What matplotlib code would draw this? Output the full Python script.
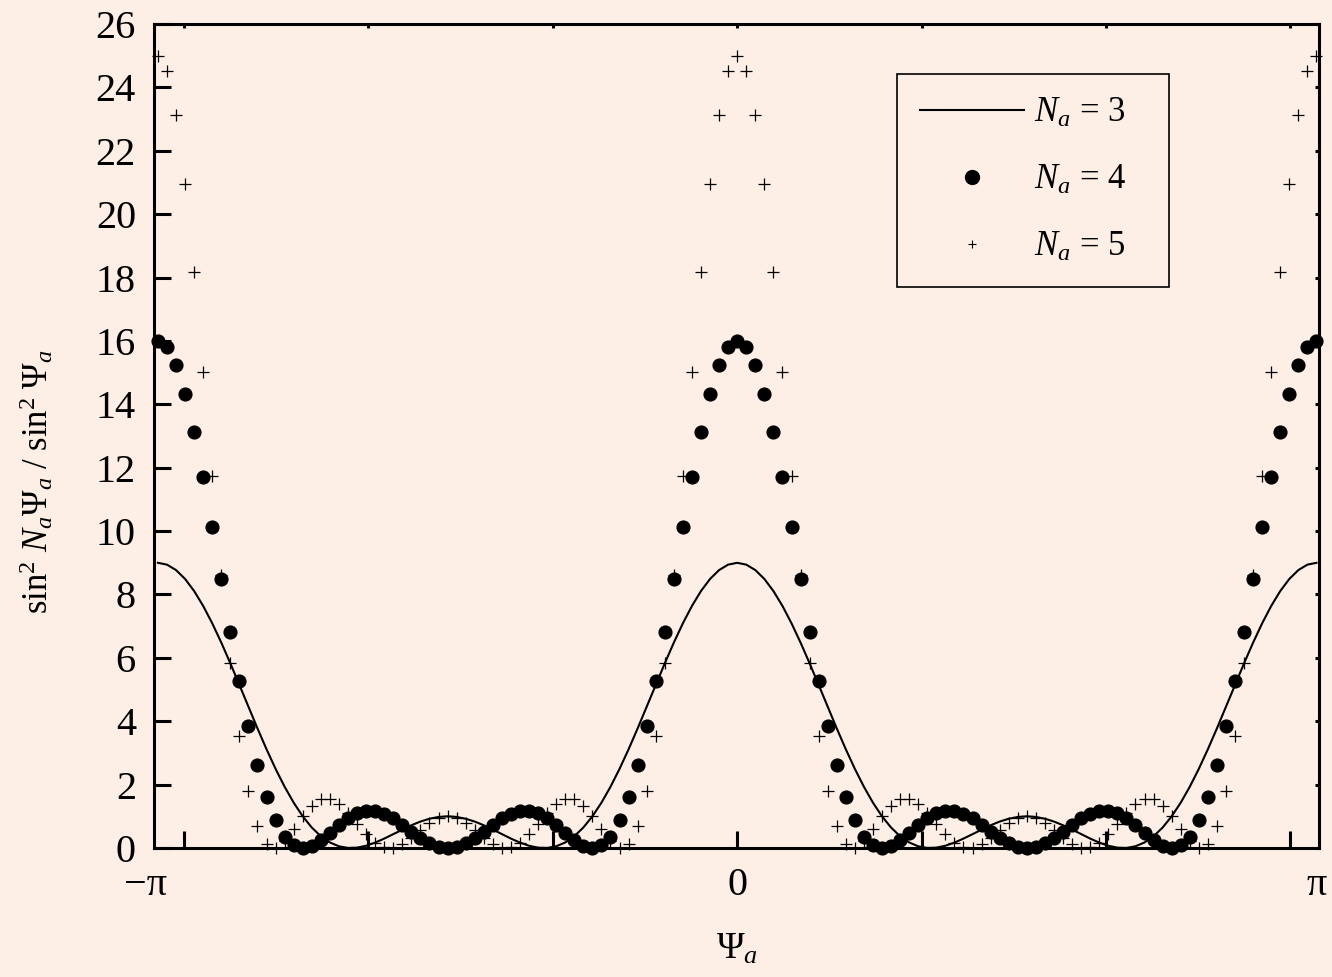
"""Plot sin^2(N psi) / sin^2(psi) over one period for several element counts."""

from __future__ import annotations

import numpy as np
import matplotlib

matplotlib.use("Agg")
import matplotlib.pyplot as plt
from matplotlib.lines import Line2D

ELEMENT_COUNTS = [3, 4, 5]
PSI_STEPS = 128  # samples across one period, -pi..pi
Y_TICKS = list(range(0, 27, 2))
X_TICKS = [-3, -2, -1, 0, 1, 2, 3]
X_LABEL_POS = [-np.pi, 0.0, np.pi]
X_LABEL_TEXT = ["\u2212\u03c0", "0", "\u03c0"]
LEGEND_LABELS = [r"$N_a$ = 3", r"$N_a$ = 4", r"$N_a$ = 5"]

BG = "#fdefe5"
INK = "black"


def array_factor(psi: np.ndarray, n: int) -> np.ndarray:
    s = np.sin(psi)
    out = np.full_like(psi, float(n * n))
    ok = np.abs(s) > 1e-9
    out[ok] = np.sin(n * psi[ok]) ** 2 / s[ok] ** 2
    return out


def main() -> None:
    plt.rcParams["font.family"] = ["Liberation Serif", "DejaVu Serif"]
    plt.rcParams["mathtext.fontset"] = "custom"
    plt.rcParams["mathtext.rm"] = "Liberation Serif"
    plt.rcParams["mathtext.it"] = "Liberation Serif:italic"
    plt.rcParams["mathtext.bf"] = "Liberation Serif:bold"

    psi = np.linspace(-np.pi, np.pi, PSI_STEPS + 1)
    af3, af4, af5 = (array_factor(psi, n) for n in ELEMENT_COUNTS)

    fig = plt.figure(figsize=(13.32, 9.77), dpi=100, facecolor=BG)
    ax = fig.add_axes([0.1156, 0.132, 0.8746, 0.8434])
    ax.set_facecolor(BG)

    ax.plot(psi, af3, color=INK, linewidth=1.5, zorder=3)
    ax.plot(psi, af4, linestyle="none", marker="o", markersize=9.2,
            color=INK, clip_on=False, zorder=4)
    ax.plot(psi, af5, linestyle="none", marker="+", markersize=8.8,
            markeredgewidth=0.9, color=INK, clip_on=False, zorder=4)

    ax.set_xlim(-3.163, 3.155)
    ax.set_ylim(0, 26)

    for side in ("left", "right", "top", "bottom"):
        ax.spines[side].set_linewidth(2.2)
        ax.spines[side].set_color(INK)

    ax.set_yticks(Y_TICKS)
    ax.set_yticklabels([str(v) for v in Y_TICKS])
    ax.tick_params(axis="y", which="major", direction="in", length=12,
                   width=2.2, labelsize=29, pad=13, right=True)
    ax.set_xticks(X_TICKS)
    ax.set_xticklabels([])
    ax.tick_params(axis="x", which="major", direction="in", length=12,
                   width=2.2, top=True)

    # right/top ticks are only short nubs on the frame
    for tick in ax.yaxis.get_major_ticks():
        tick.tick2line.set_markersize(3)
    for tick in ax.xaxis.get_major_ticks():
        tick.tick2line.set_markersize(3)

    tr = ax.get_xaxis_transform()
    for xpos, text in zip(X_LABEL_POS, X_LABEL_TEXT):
        ha = "right" if xpos < 0 else "center"
        xoff = 0.05 if xpos < 0 else 0.0
        ax.text(xpos + xoff, -0.057, text, transform=tr, ha=ha,
                va="baseline", fontsize=29)

    fig.text(737 / 1332, 1 - 959 / 977, r"$\Psi_a$", ha="center",
             va="baseline", fontsize=27)
    fig.text(0.028, 1 - 481 / 977,
             r"$\mathrm{sin}^2\ N_a\Psi_a\ /\ \mathrm{sin}^2\ \Psi_a$",
             rotation=90, ha="center", va="center", fontsize=25)

    handles = [
        Line2D([], [], color=INK, linewidth=1.5),
        Line2D([], [], linestyle="none", marker="o", markersize=10, color=INK),
        Line2D([], [], linestyle="none", marker="+", markersize=6,
               markeredgewidth=0.8, color=INK),
    ]
    leg = ax.legend(handles, LEGEND_LABELS, loc="upper left",
                    bbox_to_anchor=(0.638, 0.667, 0.2335, 0.272),
                    mode="expand", fontsize=25,
                    handlelength=3.0, handletextpad=0.28, borderpad=0.66,
                    labelspacing=0.97, fancybox=False, framealpha=1,
                    facecolor=BG, edgecolor=INK, borderaxespad=0)
    leg.get_frame().set_linewidth(1.2)

    fig.savefig("out.png", dpi=100, facecolor=BG)
    plt.close(fig)


if __name__ == "__main__":
    main()
